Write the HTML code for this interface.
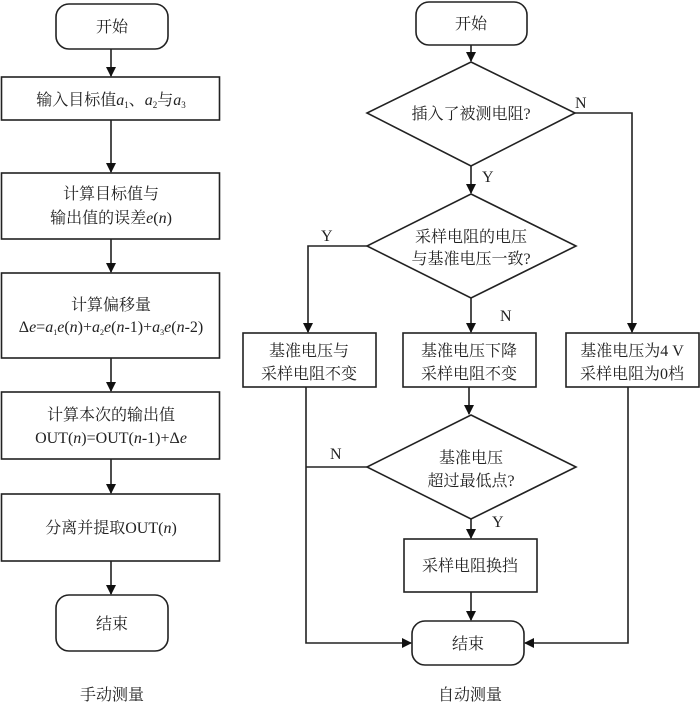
<!DOCTYPE html>
<html><head><meta charset="utf-8"><style>
html,body{margin:0;padding:0;background:#fff;}
svg{display:block;}
text{font-family:"Liberation Serif","Noto Serif CJK SC","Noto Sans CJK SC",serif;font-size:16px;fill:#222;}
.i{font-style:italic;}
</style></head><body>
<svg width="700" height="705" viewBox="0 0 700 705" xmlns="http://www.w3.org/2000/svg">
<defs><marker id="a" markerWidth="10" markerHeight="10" refX="9" refY="5" orient="auto" markerUnits="userSpaceOnUse"><path d="M0,0 L10,5 L0,10 z" fill="#111"/></marker></defs>
<g fill="none" stroke="#222" stroke-width="1.6">
<!-- left column -->
<rect x="56" y="4" width="112" height="45" rx="13"/>
<rect x="1.5" y="77" width="218" height="43"/>
<rect x="1.5" y="173" width="218" height="66"/>
<rect x="1.5" y="273" width="218" height="85"/>
<rect x="1.5" y="392" width="218" height="67"/>
<rect x="1.5" y="494" width="218" height="67"/>
<rect x="56" y="595" width="112" height="56" rx="13"/>
<line x1="111" y1="49" x2="111" y2="76" marker-end="url(#a)"/>
<line x1="111" y1="120" x2="111" y2="172" marker-end="url(#a)"/>
<line x1="111" y1="239" x2="111" y2="272" marker-end="url(#a)"/>
<line x1="111" y1="358" x2="111" y2="391" marker-end="url(#a)"/>
<line x1="111" y1="459" x2="111" y2="493" marker-end="url(#a)"/>
<line x1="111" y1="561" x2="111" y2="594" marker-end="url(#a)"/>
<!-- right column -->
<rect x="416" y="2" width="111" height="43" rx="13"/>
<polygon points="471,62 575,113 471,166 367,113"/>
<polygon points="471,194 576,246 471,298 367,246"/>
<rect x="243" y="333" width="133" height="54"/>
<rect x="403" y="333" width="133" height="54"/>
<rect x="566" y="333" width="133" height="54"/>
<polygon points="471,415 576,467 471,519 367,467"/>
<rect x="404" y="539" width="133" height="53"/>
<rect x="412" y="621" width="112" height="44" rx="13"/>
<line x1="471" y1="45" x2="471" y2="61" marker-end="url(#a)"/>
<line x1="471" y1="166" x2="471" y2="193" marker-end="url(#a)"/>
<polyline points="575,113 632,113 632,332" marker-end="url(#a)"/>
<polyline points="367,246 308,246 308,332" marker-end="url(#a)"/>
<line x1="471" y1="298" x2="471" y2="332" marker-end="url(#a)"/>
<line x1="469" y1="387" x2="469" y2="414" marker-end="url(#a)"/>
<line x1="471" y1="519" x2="471" y2="538" marker-end="url(#a)"/>
<line x1="471" y1="592" x2="471" y2="620" marker-end="url(#a)"/>
<polyline points="306,387 306,643 411,643" marker-end="url(#a)"/>
<line x1="306" y1="467" x2="367" y2="467"/>
<polyline points="628,387 628,643 525,643" marker-end="url(#a)"/>
</g>
<g text-anchor="middle">
<text x="112" y="32">开始</text>
<text x="111" y="105">输入目标值<tspan class="i">a</tspan><tspan font-size="9" dy="3">1</tspan><tspan dy="-3">、</tspan><tspan class="i">a</tspan><tspan font-size="9" dy="3">2</tspan><tspan dy="-3">与</tspan><tspan class="i">a</tspan><tspan font-size="9" dy="3">3</tspan></text>
<text x="111" y="199">计算目标值与</text>
<text x="111" y="223">输出值的误差<tspan class="i">e</tspan>(<tspan class="i">n</tspan>)</text>
<text x="111" y="310">计算偏移量</text>
<text x="111" y="332" font-size="15">Δ<tspan class="i">e</tspan>=<tspan class="i">a</tspan><tspan font-size="8" dy="3">1</tspan><tspan class="i" dy="-3">e</tspan>(<tspan class="i">n</tspan>)+<tspan class="i">a</tspan><tspan font-size="8" dy="3">2</tspan><tspan class="i" dy="-3">e</tspan>(<tspan class="i">n</tspan>-1)+<tspan class="i">a</tspan><tspan font-size="8" dy="3">3</tspan><tspan class="i" dy="-3">e</tspan>(<tspan class="i">n</tspan>-2)</text>
<text x="111" y="420">计算本次的输出值</text>
<text x="111" y="443" font-size="15">OUT(<tspan class="i">n</tspan>)=OUT(<tspan class="i">n</tspan>-1)+Δ<tspan class="i">e</tspan></text>
<text x="111" y="533">分离并提取OUT(<tspan class="i">n</tspan>)</text>
<text x="112" y="629">结束</text>
<text x="112" y="700" font-size="17">手动测量</text>
<text x="471" y="29">开始</text>
<text x="471" y="119">插入了被测电阻?</text>
<text x="471" y="242">采样电阻的电压</text>
<text x="471" y="264">与基准电压一致?</text>
<text x="309" y="356">基准电压与</text>
<text x="309" y="379">采样电阻不变</text>
<text x="469" y="356">基准电压下降</text>
<text x="469" y="379">采样电阻不变</text>
<text x="632" y="356">基准电压为4 V</text>
<text x="632" y="379">采样电阻为0档</text>
<text x="471" y="463">基准电压</text>
<text x="471" y="486">超过最低点?</text>
<text x="470" y="571">采样电阻换挡</text>
<text x="468" y="649">结束</text>
<text x="470" y="700" font-size="17">自动测量</text>
</g>
<text x="575" y="108">N</text>
<text x="482" y="182">Y</text>
<text x="321" y="241">Y</text>
<text x="500" y="321">N</text>
<text x="330" y="459">N</text>
<text x="492" y="527">Y</text>
</svg>
</body></html>
